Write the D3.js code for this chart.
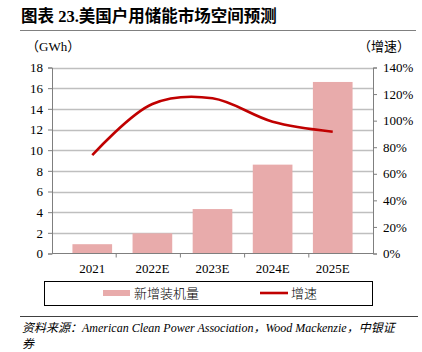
<!DOCTYPE html>
<html>
<head>
<meta charset="utf-8">
<script src="https://cdn.jsdelivr.net/npm/d3@7"></script>
<style>
  body { margin: 0; background: #fff; }
  svg text { font-family: "Liberation Serif", "Noto Sans CJK SC", serif; }
</style>
</head>
<body>
<div id="general"></div>
<script>
const w = 422, h = 352;
const m = { l: 52, r: 49, t: 67.5, b: 98.5 };

const years = ["2021", "2022E", "2023E", "2024E", "2025E"];
const installs = [0.9, 1.95, 4.3, 8.6, 16.6];
const growth = [0.74, 1.125, 1.168, 0.992, 0.917];
const leftTicks = [0, 2, 4, 6, 8, 10, 12, 14, 16, 18];
const rightTicks = [0, 0.2, 0.4, 0.6, 0.8, 1.0, 1.2, 1.4];

const colbar = "#e8abab", colline = "#c00000", colgrid = "#bfbfbf", colaxis = "#7f7f7f";

const svg = d3.select("#general").append("svg").attr("width", w).attr("height", h);

// titre + filet
svg.append("text").attr("x", 21).attr("y", 22)
  .attr("font-size", 16.5).attr("font-weight", "bold")
  .attr("font-family", "'Noto Sans CJK SC', serif")
  .text("图表 23.美国户用储能市场空间预测");
svg.append("line").attr("x1", 20).attr("x2", 416).attr("y1", 30.5).attr("y2", 30.5)
  .attr("stroke", "#808080").attr("stroke-width", 1.2);

svg.append("text").attr("x", 26).attr("y", 51).attr("font-size", 13).text("（GWh）");
svg.append("text").attr("x", 358).attr("y", 51).attr("font-size", 13).text("（增速）");

const x = d3.scaleBand().domain(years).range([m.l, w - m.r]).padding(0.34);
const xEdge = d3.scaleLinear().domain([0, years.length]).range([m.l, w - m.r]);
const y = d3.scaleLinear().domain([0, 18]).range([h - m.b, m.t]);
const y2 = d3.scaleLinear().domain([0, 1.4]).range([h - m.b, m.t]);

// grille
svg.append("g").selectAll("line").data(leftTicks.slice(1)).join("line")
  .attr("x1", m.l).attr("x2", w - m.r)
  .attr("y1", d => Math.round(y(d)) + 0.5).attr("y2", d => Math.round(y(d)) + 0.5)
  .attr("stroke", colgrid).attr("stroke-width", 1.3);

// barres
svg.append("g").selectAll("rect").data(installs).join("rect")
  .attr("x", (d, i) => x(years[i])).attr("width", x.bandwidth())
  .attr("y", d => y(d)).attr("height", d => y(0) - y(d))
  .attr("fill", colbar);

// axes
const axL = svg.append("g").attr("transform", `translate(${m.l},0)`)
  .call(d3.axisLeft(y).tickValues(leftTicks).tickSize(4).tickPadding(5));
const axR = svg.append("g").attr("transform", `translate(${w - m.r},0)`)
  .call(d3.axisRight(y2).tickValues(rightTicks).tickSize(4).tickPadding(6).tickFormat(d3.format(".0%")));
[axL, axR].forEach(a => {
  a.selectAll("text").attr("font-size", 13).attr("fill", "#000");
  a.selectAll("line, path").attr("stroke", colaxis);
});

const axB = svg.append("g").attr("transform", `translate(0,${h - m.b})`);
axB.append("line").attr("x1", m.l).attr("x2", w - m.r).attr("stroke", colaxis);
axB.selectAll(".tk").data(d3.range(1, years.length)).join("line")
  .attr("x1", d => xEdge(d)).attr("x2", d => xEdge(d)).attr("y1", 0).attr("y2", 4)
  .attr("stroke", colaxis);
axB.selectAll("text").data(years).join("text")
  .attr("x", d => x(d) + x.bandwidth() / 2).attr("y", 19)
  .attr("text-anchor", "middle").attr("font-size", 13).text(d => d);

// courbe
const line = d3.line()
  .x((d, i) => x(years[i]) + x.bandwidth() / 2)
  .y(d => y2(d))
  .curve(d3.curveCatmullRom.alpha(0.5));
svg.append("path").datum(growth).attr("d", line)
  .attr("fill", "none").attr("stroke", colline).attr("stroke-width", 2.6);

// légende
const lg = svg.append("g");
lg.append("rect").attr("x", 44.5).attr("y", 281.5).attr("width", 328).attr("height", 24)
  .attr("fill", "none").attr("stroke", "#000").attr("stroke-width", 1);
lg.append("rect").attr("x", 103).attr("y", 290).attr("width", 27).attr("height", 6).attr("fill", colbar);
lg.append("text").attr("x", 134).attr("y", 298).attr("font-size", 13)
  .attr("font-family", "'Noto Sans CJK SC', serif").attr("font-weight", 300).text("新增装机量");
lg.append("line").attr("x1", 260).attr("x2", 288).attr("y1", 293).attr("y2", 293)
  .attr("stroke", colline).attr("stroke-width", 2.6);
lg.append("text").attr("x", 291).attr("y", 298).attr("font-size", 13)
  .attr("font-family", "'Noto Sans CJK SC', serif").attr("font-weight", 300).text("增速");

// source
svg.append("line").attr("x1", 20).attr("x2", 418).attr("y1", 316.5).attr("y2", 316.5)
  .attr("stroke", "#404040").attr("stroke-width", 1);
const src = svg.append("text").attr("x", 22).attr("y", 332).attr("font-size", 12).attr("font-style", "italic");
src.append("tspan").text("资料来源：American Clean Power Association，Wood Mackenzie，中银证");
src.append("tspan").attr("x", 22).attr("dy", 16).text("券");
</script>
</body>
</html>
